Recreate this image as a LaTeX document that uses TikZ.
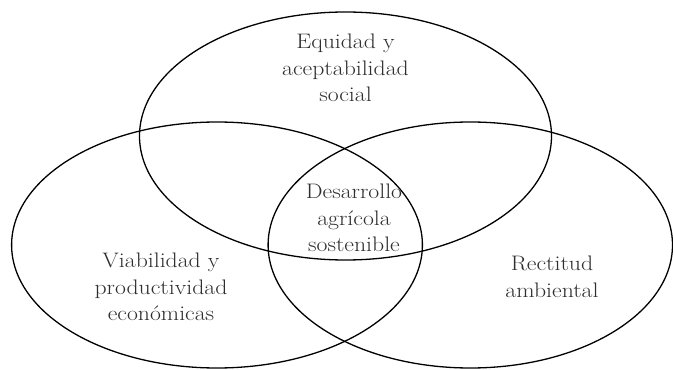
\documentclass[tikz,border=0pt]{standalone}
\usepackage{fontspec}
\setmainfont{Latin Modern Roman}[FakeStretch=1.13]
\begin{document}
\begin{tikzpicture}[x=1pt,y=1pt,
  ring/.style={draw=black,line width=1.3pt},
  lbl/.style={align=center,font=\fontsize{21}{26.5}\selectfont,text=black!82,inner sep=0pt}]
\useasboundingbox (0,0) rectangle (673,370);
% y_tikz = 370 - y_img
\draw[ring] (345.5,234) ellipse [x radius=206, y radius=124];
\draw[ring] (217,125) ellipse [x radius=205.4, y radius=123];
\draw[ring] (470.3,125) ellipse [x radius=202.2, y radius=123];
\node[lbl] (top) at (345.5,302) {Equidad y\\aceptabilidad\\social};
\node[lbl] (mid) at (354,152) {Desarrollo\\agrícola\\sostenible};
\node[lbl] (left) at (161,83) {Viabilidad y\\productividad\\económicas};
\node[lbl] (right) at (552,93) {Rectitud\\ambiental};
\end{tikzpicture}
\end{document}
